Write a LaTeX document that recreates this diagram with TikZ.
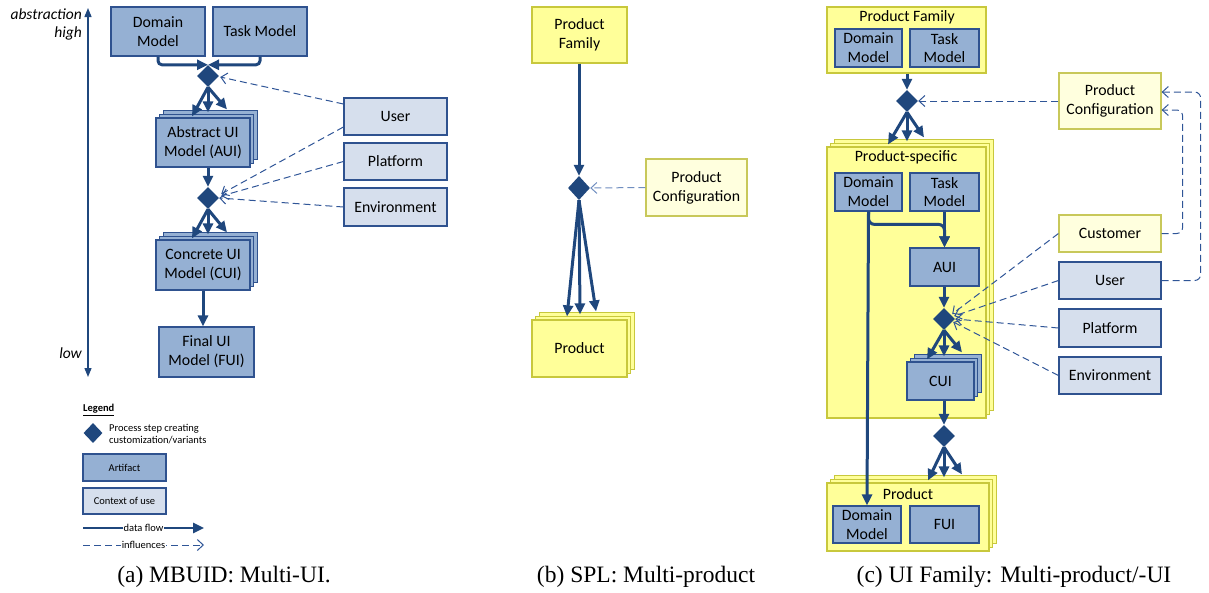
\documentclass[tikz,border=0pt]{standalone}
\usepackage{fontspec}
\setmainfont{Carlito}
\newfontfamily\capfont{Liberation Serif}
\usetikzlibrary{arrows.meta,shapes.geometric,shadows,calc}

\definecolor{flowblue}{RGB}{31,71,125}
\definecolor{artfill}{RGB}{149,176,211}
\definecolor{artline}{RGB}{47,82,143}
\definecolor{ctxfill}{RGB}{214,223,237}
\definecolor{famfill}{RGB}{255,255,153}
\definecolor{famline}{RGB}{200,200,60}
\definecolor{cfgfill}{RGB}{255,255,222}
\definecolor{cfgline}{RGB}{200,200,90}
\definecolor{inflblue}{RGB}{47,85,151}
\definecolor{inflpale}{RGB}{112,142,192}

\tikzset{
  boxtext/.style={font=\fontsize{15.8}{18.8}\selectfont, align=center, text=black},
  artifact/.style={boxtext, draw=artline, fill=artfill, line width=1.2pt, inner sep=0pt},
  context/.style={boxtext, draw=artline, fill=ctxfill, line width=1.2pt, inner sep=0pt},
  family/.style={boxtext, draw=famline, fill=famfill, line width=1.2pt, inner sep=0pt},
  config/.style={boxtext, draw=cfgline, fill=cfgfill, line width=1.2pt, inner sep=0pt},
  stackof/.style={
    copy shadow={shadow xshift=7.5pt, shadow yshift=7.5pt, #1},
    copy shadow={shadow xshift=3.75pt, shadow yshift=3.75pt, #1}},
  artstack/.style={artifact, stackof={fill=artfill, draw=artline, line width=1.2pt}},
  famstack/.style={family, stackof={fill=famfill, draw=famline, line width=1.2pt}},
  proc/.style={diamond, fill=flowblue, draw=none, inner sep=0pt,
    minimum width=22pt, minimum height=22pt},
  flow/.style={draw=flowblue, line width=3pt,
    -{Triangle[length=11pt,width=10pt]}},
  infl/.style={draw=inflblue, line width=1pt, dash pattern=on 7pt off 4pt,
    -{Straight Barb[length=6pt,width=11pt,line width=1pt]}},
  axisline/.style={draw=flowblue, line width=1.3pt,
    {Triangle[length=9pt,width=7pt]}-{Triangle[length=9pt,width=7pt]}},
  axislabel/.style={font=\fontsize{15.5}{18}\selectfont\itshape, anchor=east, inner sep=0pt},
  legendtext/.style={font=\fontsize{10.5}{11.5}\selectfont, align=left, inner sep=0pt},
  caption/.style={font=\capfont\fontsize{23.5}{26}\selectfont, anchor=base, inner sep=0pt},
  paneltitle/.style={font=\fontsize{15.8}{18}\selectfont, inner sep=0pt},
}

\begin{document}
\begin{tikzpicture}[x=1pt, y=-1pt]
\useasboundingbox (0,0) rectangle (1209,592);

% ---------------- (a) model-based UI development ----------------
\coordinate (axtop) at (88,8);
\coordinate (axbot) at (88,377);
\draw[axisline] (axbot) -- (axtop);
\node[axislabel] (abs)  at (82,14) {abstraction};
\node[axislabel] (high) at (82,33) {high};
\node[axislabel] (low)  at (82,353) {low};

\node[artifact, minimum width=94pt, minimum height=49pt] (dm) at (158,31.5) {Domain\\Model};
\node[artifact, minimum width=94pt, minimum height=49pt] (tm) at (260,31.5) {Task Model};
\node[proc] (d1) at (208,76) {};
\node[artstack, minimum width=94pt, minimum height=49pt] (aui) at (203,142.5) {Abstract UI\\Model (AUI)};
\node[proc] (d2) at (208,198) {};
\node[artstack, minimum width=94pt, minimum height=50pt] (cui) at (203,265) {Concrete UI\\Model (CUI)};
\node[artifact, minimum width=95pt, minimum height=50pt] (fui) at (206.5,352) {Final UI\\Model (FUI)};

\node[context, minimum width=103pt, minimum height=37pt] (user) at (395.5,116.5) {User};
\node[context, minimum width=103pt, minimum height=37pt] (plat) at (395.5,161.5) {Platform};
\node[context, minimum width=103pt, minimum height=38pt] (env)  at (395.5,207) {Environment};

\draw[flow, rounded corners=4pt] (dm.south) |- (d1.north);
\draw[flow, rounded corners=4pt] (tm.south) |- (d1.north);
\foreach \dx/\dy in {-11/-1, 5/-5, 24/-8}
  \draw[flow] (d1.south) -- ($(aui.north)+(\dx,\dy)$);
\draw[flow] (d2.north |- aui.south) -- (d2.north);
\foreach \dx/\dy in {-11/-1, 5/-5, 24/-7}
  \draw[flow] (d2.south) -- ($(cui.north)+(\dx,\dy)$);
\draw[flow] (cui.south) -- (cui.south |- fui.north);

\draw[infl] ($(user.west)+(0,-12.5)$) -- ($(d1.east)+(1,1)$);
\draw[infl] ($(user.west)+(0,10.5)$) -- ($(d2.east)+(2,-4)$);
\draw[infl] (plat.west) -- ($(d2.east)+(2,-2)$);
\draw[infl] (env.west) -- (d2.east);

% legend
\node[legendtext, anchor=west, font=\fontsize{10.5}{11.5}\selectfont\bfseries] (leg) at (83,410) {\underline{Legend}};
\node[proc, minimum width=19pt, minimum height=20pt] (legd) at (93,433) {};
\node[legendtext, anchor=west] (legdt) at (109,434) {Process step creating\\customization/variants};
\node[artifact, font=\fontsize{10.5}{12}\selectfont, minimum width=83pt, minimum height=27pt] (lega) at (124.5,467.5) {Artifact};
\node[context, font=\fontsize{10.5}{12}\selectfont, minimum width=83pt, minimum height=26pt] (legc) at (124.5,501) {Context of use};
\coordinate (lf1) at (83,528); \coordinate (lf2) at (204,528);
\draw[flow, line width=2.5pt] (lf1) -- (lf2)
  node[midway, legendtext, fill=white, inner xsep=0.5pt, inner ysep=1pt] (lft) {data flow};
\coordinate (li1) at (83,545); \coordinate (li2) at (204,545);
\draw[infl] (li1) -- (li2)
  node[midway, legendtext, fill=white, inner xsep=0.5pt, inner ysep=1pt] (lit) {influences};

% ---------------- (b) software product line ----------------
\node[family, minimum width=95pt, minimum height=56pt] (pf) at (579.5,35) {Product\\Family};
\node[proc, minimum width=22pt, minimum height=24pt] (d5) at (579,188) {};
\node[config, minimum width=101pt, minimum height=57pt] (pc) at (696.5,187.5) {Product\\Configuration};
\node[famstack, minimum width=95pt, minimum height=57pt] (prod) at (579.5,348.5) {Product};

\draw[flow] (d5.north |- pf.south) -- (d5.north);
\draw[infl, draw=inflpale] (pc.west) -- (d5.east);
\foreach \dx/\dy in {-12.5/-3, 0.5/-5, 16.5/-8}
  \draw[flow] (d5.south) -- ($(prod.north)+(\dx,\dy)$);

% ---------------- (c) UI family ----------------
\node[family, minimum width=159pt, minimum height=66pt] (pfam) at (906.5,40) {};
\node[paneltitle] (pfamt) at (907,17) {Product Family};
\node[artifact, minimum width=67pt, minimum height=38pt] (pfdm) at (868.5,48) {Domain\\Model};
\node[artifact, minimum width=69pt, minimum height=38pt] (pftm) at (944.5,48) {Task\\Model};
\node[proc] (d6) at (907,101) {};
\node[config, minimum width=102pt, minimum height=56pt] (cfg) at (1110,101) {Product\\Configuration};

\node[famstack, minimum width=159pt, minimum height=271pt] (ps) at (906.5,282.5) {};
\node[paneltitle] (pst) at (906,157) {Product-specific};
\node[artifact, minimum width=67pt, minimum height=38pt] (psdm) at (868.5,192) {Domain\\Model};
\node[artifact, minimum width=69pt, minimum height=38pt] (pstm) at (944.5,192) {Task\\Model};
\node[artifact, minimum width=69pt, minimum height=38pt] (aui2) at (944.5,267) {AUI};
\node[proc] (d7) at (944,319) {};
\node[artstack, minimum width=67pt, minimum height=38pt] (cui2) at (940.5,381) {CUI};
\node[proc] (d8) at (944,436) {};

\node[famstack, minimum width=162pt, minimum height=68pt] (prod2) at (908,517) {};
\node[paneltitle] (prodt) at (908,494) {Product};
\node[artifact, minimum width=68pt, minimum height=37pt] (prdm) at (867,524.5) {Domain\\Model};
\node[artifact, minimum width=69pt, minimum height=37pt] (fui2) at (944.5,524.5) {FUI};

\node[config, minimum width=102pt, minimum height=37pt] (cust) at (1110,233.5) {Customer};
\node[context, minimum width=102pt, minimum height=37pt] (user2) at (1110,280.5) {User};
\node[context, minimum width=102pt, minimum height=38pt] (plat2) at (1110,328) {Platform};
\node[context, minimum width=102pt, minimum height=37pt] (env2) at (1110,375.5) {Environment};

\draw[flow] (d6.north |- pfam.south) -- (d6.north);
\draw[infl] (cfg.west) -- (d6.east);
\foreach \dx/\dy in {-18.5/-2, 0.5/-5, 17.5/-9}
  \draw[flow] (d6.south) -- ($(ps.north)+(\dx,\dy)$);
\draw[flow, rounded corners=6pt] (psdm.south) |- ($(aui2.north)+(0,-23)$) -- (aui2.north);
\draw[flow] (pstm.south) -- (aui2.north);
\draw[flow] (psdm.south) -- (prdm.north);
\draw[flow] (d7.north |- aui2.south) -- (d7.north);
\foreach \dx/\dy in {-13.5/-2, 3.5/-5, 21.5/-9}
  \draw[flow] (d7.south) -- ($(cui2.north)+(\dx,\dy)$);
\draw[flow] (d8.north |- cui2.south) -- (d8.north);
\foreach \dx/\dy in {20/-2, 36/-5, 54/-8}
  \draw[flow] (d8.south) -- ($(prod2.north)+(\dx,\dy)$);

\draw[infl] (cust.west) -- ($(d7.east)+(-3,-5)$);
\draw[infl] (user2.west) -- ($(d7.east)+(-1,-3)$);
\draw[infl] (plat2.west) -- (d7.east);
\draw[infl] (env2.west) -- ($(d7.east)+(-2,3)$);
\draw[infl, rounded corners=6pt] (cust.east) -- ++(21,0) |- ($(cfg.east)+(0,9)$);
\draw[infl, rounded corners=6pt] (user2.east) -- ++(39,0) |- ($(cfg.east)+(0,-9)$);

% ---------------- captions ----------------
\node[caption] (capa) at (224,582) {(a) MBUID: Multi-UI.};
\node[caption] (capb) at (646,582) {(b) SPL: Multi-product};
\node[caption] (capc) at (1014,582) {(c) UI Family: Multi-product/-UI};
\end{tikzpicture}
\end{document}
